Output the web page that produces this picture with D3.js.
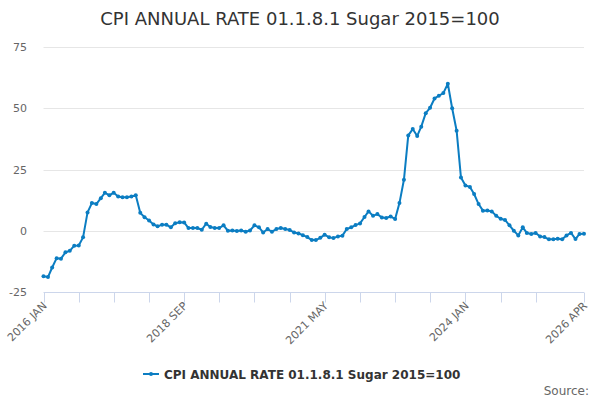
<!DOCTYPE html>
<html>
<meta charset="utf-8">
<script src="https://d3js.org/d3.v7.min.js"></script>
<style>
  body { margin: 0; background: #fff; }
  text { font-family: "DejaVu Sans", sans-serif; }
</style>
<body>
<div id="chart"></div>
<script>

// series: CPI annual rate, sugar, monthly from 2016 JAN to 2026 APR
var seriesName = "CPI ANNUAL RATE 01.1.8.1 Sugar 2015=100";
var startMonth = new Date(2016, 0, 1);
var values = [
  -18.6, -18.9, -15.0, -11.2, -11.4, -8.8, -8.2, -6.1, -6.0, -2.7, 7.5, 11.3,
  10.9, 13.3, 15.5, 14.5, 15.5, 14.0, 13.7, 13.7, 14.0, 14.5, 7.3, 5.5,
  4.2, 2.6, 1.8, 2.5, 2.5, 1.4, 3.1, 3.5, 3.4, 1.1, 1.1, 1.1,
  0.4, 2.9, 1.5, 1.1, 1.1, 2.2, 0.0, 0.1, -0.1, 0.1, -0.4, 0.1,
  2.2, 1.4, -0.7, 0.7, -0.4, 0.7, 1.1, 0.7, 0.3, -0.7, -1.1, -1.8,
  -2.6, -3.8, -3.8, -2.9, -1.6, -2.7, -3.0, -2.3, -2.0, 0.7, 1.4, 2.3,
  3.0, 5.6, 7.9, 6.1, 6.8, 5.4, 5.2, 5.8, 4.8, 11.3, 20.8, 38.9,
  41.5, 38.7, 42.5, 48.0, 50.2, 54.0, 55.1, 56.2, 60.0, 50.0, 40.8, 21.7,
  18.5, 17.9, 15.0, 10.9, 8.2, 8.3, 7.9, 6.1, 4.9, 4.4, 2.2, 0.0,
  -1.9, 1.4, -0.9, -1.3, -0.9, -2.3, -2.6, -3.5, -3.5, -3.3, -3.5, -1.9,
  -0.9, -3.4, -1.3, -1.2
];
var yTicks = [-25, 0, 25, 50, 75];
// x ticks every 8 months plus the last month; only some are labelled
var xTickMonths = [0, 8, 16, 24, 32, 40, 48, 56, 64, 72, 80, 88, 96, 104, 112, 123];
var xLabels = ["2016 JAN", "2018 SEP", "2021 MAY", "2024 JAN", "2026 APR"];
var xLabelMonths = [0, 32, 64, 96, 123];

var width = 600, height = 400;
var margin = {top: 47, right: 16, bottom: 108, left: 43.5};

var data = values.map(function(v, i) {
  return {date: d3.timeMonth.offset(startMonth, i), value: v};
});

var svg = d3.select("#chart").append("svg")
    .attr("width", width)
    .attr("height", height);

var x = d3.scaleTime()
    .domain([data[0].date, data[data.length - 1].date])
    .range([margin.left, width - margin.right]);

var y = d3.scaleLinear()
    .domain([-25, 75])
    .range([height - margin.bottom, margin.top]);

// title
svg.append("text")
    .attr("x", width / 2)
    .attr("y", 25)
    .attr("text-anchor", "middle")
    .style("font-size", "18px")
    .style("fill", "#333333")
    .text(seriesName);

// grid + y labels
svg.append("g")
    .selectAll("line")
    .data(yTicks.filter(function(d) { return d !== -25; }))
    .enter().append("line")
    .attr("x1", margin.left)
    .attr("x2", width - margin.right)
    .attr("y1", function(d) { return Math.round(y(d)) + 0.5; })
    .attr("y2", function(d) { return Math.round(y(d)) + 0.5; })
    .style("stroke", "#e6e6e6");

svg.append("g")
    .selectAll("text")
    .data(yTicks)
    .enter().append("text")
    .attr("x", 27)
    .attr("y", function(d) { return y(d) + 4; })
    .attr("text-anchor", "end")
    .style("font-size", "11px")
    .style("fill", "#666666")
    .text(function(d) { return d; });

// x axis
var tickDates = xTickMonths.map(function(m) { return d3.timeMonth.offset(startMonth, m); });
var xAxis = svg.append("g")
    .attr("transform", "translate(0," + (Math.round(y(-25)) + 0.5) + ")");
xAxis.append("line")
    .attr("x1", margin.left)
    .attr("x2", width - margin.right)
    .style("stroke", "#ccd6eb");
xAxis.selectAll(".tick")
    .data(tickDates)
    .enter().append("line")
    .attr("x1", function(d) { return Math.round(x(d)) + 0.5; })
    .attr("x2", function(d) { return Math.round(x(d)) + 0.5; })
    .attr("y1", 0)
    .attr("y2", 10)
    .style("stroke", "#ccd6eb");
xAxis.selectAll(".lbl")
    .data(xLabels)
    .enter().append("text")
    .attr("text-anchor", "end")
    .attr("transform", function(d, i) {
      var px = x(d3.timeMonth.offset(startMonth, xLabelMonths[i])) + 4;
      return "translate(" + px + ",14) rotate(-45)";
    })
    .style("font-size", "11px")
    .style("fill", "#666666")
    .text(function(d) { return d; });

// line
var line = d3.line()
    .x(function(d) { return x(d.date); })
    .y(function(d) { return y(d.value); });

svg.append("path")
    .datum(data)
    .attr("d", line)
    .style("fill", "none")
    .style("stroke", "#0b7dc2")
    .style("stroke-width", 2)
    .style("stroke-linejoin", "round");

svg.append("g")
    .selectAll("circle")
    .data(data)
    .enter().append("circle")
    .attr("cx", function(d) { return x(d.date); })
    .attr("cy", function(d) { return y(d.value); })
    .attr("r", 2)
    .style("fill", "#0b7dc2");

// legend
var legend = svg.append("g").attr("transform", "translate(143,374)");
legend.append("line")
    .attr("x1", 0).attr("x2", 16)
    .style("stroke", "#0b7dc2")
    .style("stroke-width", 2);
legend.append("circle")
    .attr("cx", 8).attr("r", 2)
    .style("fill", "#0b7dc2");
legend.append("text")
    .attr("x", 21)
    .attr("y", 5)
    .style("font-size", "12px")
    .style("font-weight", "bold")
    .style("fill", "#333333")
    .text(seriesName);

// credits
svg.append("text")
    .attr("x", 589)
    .attr("y", 395)
    .attr("text-anchor", "end")
    .style("font-size", "12px")
    .style("fill", "#666666")
    .text("Source:");

</script>
</body>
</html>
